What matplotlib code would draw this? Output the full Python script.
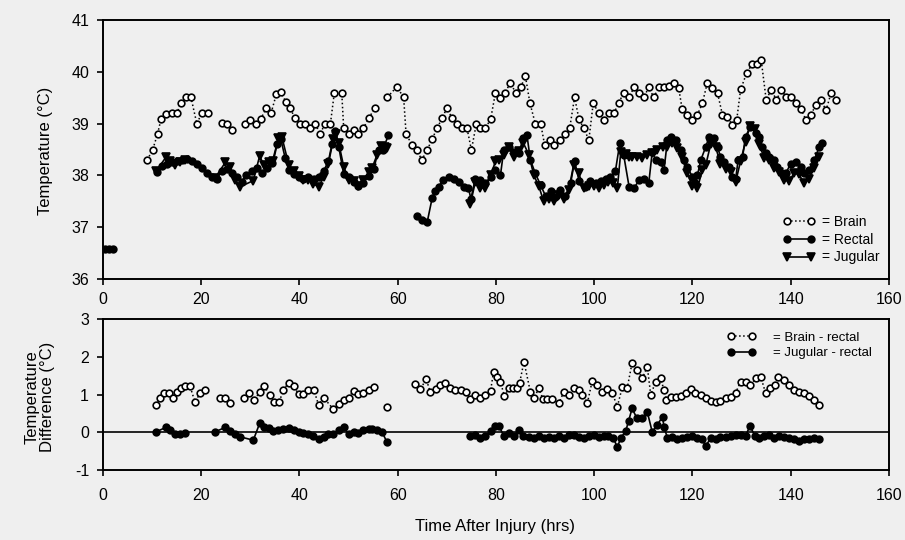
import numpy as np
import matplotlib
matplotlib.use("Agg")
import matplotlib.pyplot as plt
from matplotlib.lines import Line2D

plt.rcParams['font.family'] = ['Liberation Sans', 'DejaVu Sans']
plt.rcParams['axes.unicode_minus'] = False

# ---------------- data: top panel ----------------
brain_t = [9.0, 10.1, 11.1, 11.8, 12.8, 14.0, 15.1, 15.8, 16.8, 17.9, 19.1, 20.1, 21.3,
           24.2, 25.2, 26.2,
           28.9, 30.0, 31.1, 32.1, 33.2, 34.2, 35.3, 36.2, 37.2, 38.1, 39.1, 40.1, 41.2, 42.2,
           43.2, 44.2, 45.2, 46.3, 47.1, 48.6, 49.0, 50.0, 51.0, 52.0, 53.0, 54.1, 55.3,
           57.9, 59.8, 61.2, 61.7, 62.9, 63.9, 64.9, 66.0, 67.0, 68.0, 69.0, 70.0, 71.1, 72.1,
           73.1, 74.1, 75.0, 76.0, 76.8, 77.8, 78.9, 79.9, 80.9, 81.9, 82.9, 84.0, 85.0, 86.0,
           86.9, 88.0, 89.1, 89.9, 91.0, 91.9, 93.0, 94.0, 95.0, 96.0, 96.9, 97.9, 98.9, 99.8,
           100.9, 102.0, 103.0, 104.0, 105.0, 106.0, 107.1, 108.1, 109.1, 110.1, 111.1, 112.1,
           113.2, 114.2, 115.2, 116.2, 117.2, 117.9, 118.9, 120.0, 121.0, 122.0, 123.0, 124.0,
           125.1, 126.1, 127.1, 128.1, 129.0, 129.8, 131.0, 132.2, 133.2, 134.0, 135.0, 136.0,
           137.1, 138.1, 139.1, 140.1, 141.1, 142.1, 143.1, 144.1, 145.1, 146.1, 147.2, 148.2,
           149.2]
brain_v = [38.30, 38.49, 38.80, 39.08, 39.19, 39.20, 39.20, 39.40, 39.51, 39.51, 39.00, 39.20, 39.20,
           39.02, 38.99, 38.88,
           38.99, 39.07, 38.99, 39.08, 39.30, 39.20, 39.57, 39.62, 39.42, 39.30, 39.10, 39.00, 39.00, 38.92,
           39.00, 38.80, 39.00, 39.00, 39.60, 39.60, 38.91, 38.80, 38.88, 38.80, 38.91, 39.10, 39.30,
           39.51, 39.71, 39.51, 38.80, 38.59, 38.49, 38.30, 38.49, 38.70, 38.91, 39.10, 39.30, 39.10, 39.00,
           38.91, 38.91, 38.49, 39.00, 38.91, 38.91, 39.08, 39.60, 39.49, 39.60, 39.79, 39.60, 39.70, 39.91,
           39.40, 39.00, 39.00, 38.59, 38.68, 38.59, 38.68, 38.80, 38.91, 39.51, 39.08, 38.91, 38.68, 39.40,
           39.20, 39.07, 39.20, 39.20, 39.40, 39.60, 39.51, 39.70, 39.60, 39.51, 39.70, 39.51,
           39.70, 39.70, 39.72, 39.78, 39.68, 39.28, 39.17, 39.07, 39.17, 39.39, 39.78, 39.68,
           39.59, 39.17, 39.13, 38.97, 39.07, 39.66, 39.97, 40.16, 40.16, 40.22, 39.46, 39.65,
           39.46, 39.65, 39.51, 39.51, 39.39, 39.28, 39.07, 39.17, 39.36, 39.46, 39.26, 39.59,
           39.46]

rectal_t = [0.5, 1.3, 2.1,
            10.9, 12.0, 13.0, 14.0, 15.0, 16.0, 17.0, 18.1, 19.1, 20.1, 21.1, 22.1, 23.2, 24.2, 25.2,
            26.2, 27.2, 28.2, 29.2, 30.3, 31.3, 32.3, 33.3, 34.4, 35.4, 36.2, 37.1, 37.9, 38.8, 39.8,
            40.8, 41.8, 42.9, 43.9, 44.9, 45.9, 46.6, 47.3, 48.0, 49.0, 50.0, 51.0, 52.0, 53.0, 54.1,
            55.1, 56.1, 57.0, 58.1,
            63.9, 64.9, 66.0, 67.0, 67.5, 68.3, 69.3, 70.4, 71.4, 72.4, 73.4, 74.4, 74.9, 75.8, 76.8,
            77.8, 78.9, 79.9, 80.9, 81.6, 82.6, 83.6, 84.6, 85.6, 86.3, 87.0, 88.0, 89.1, 90.1, 91.1,
            92.1, 93.1, 94.1, 95.2, 96.0, 96.9, 98.2, 99.2, 100.3, 101.3, 102.3, 103.3, 104.3, 105.2,
            106.0, 107.1, 108.1, 109.1, 110.1, 111.1, 111.8, 112.5, 113.5, 114.2, 114.9, 115.6, 116.6,
            117.6, 118.3, 118.9, 120.0, 120.6, 121.0, 121.7, 122.7, 123.4, 124.4, 125.1, 125.7, 126.4,
            127.4, 128.1, 128.8, 129.3, 130.2, 130.8, 131.8, 132.9, 133.5, 134.2, 134.9, 135.6, 136.6,
            137.3, 138.3, 139.0, 140.0, 141.0, 142.0, 142.7, 143.7, 144.8, 145.8, 146.4]
rectal_v = [36.57, 36.57, 36.57,
            38.07, 38.18, 38.22, 38.25, 38.28, 38.30, 38.31, 38.28, 38.23, 38.14, 38.04, 37.97, 37.94,
            38.08, 38.12, 38.04, 37.96, 37.88, 38.01, 38.08, 38.15, 38.04, 38.15, 38.24, 38.60, 38.70,
            38.33, 38.10, 38.02, 37.97, 37.94, 37.97, 37.94, 37.97, 38.08, 38.28, 38.60, 38.85, 38.55,
            38.02, 37.97, 37.88, 37.80, 37.86, 37.98, 38.12, 38.50, 38.50, 38.78,
            37.22, 37.14, 37.10, 37.56, 37.69, 37.78, 37.92, 37.96, 37.94, 37.88, 37.78, 37.75, 37.55,
            37.94, 37.91, 37.85, 37.97, 38.10, 38.00, 38.50, 38.55, 38.46, 38.43, 38.72, 38.78, 38.30,
            38.04, 37.81, 37.60, 37.70, 37.58, 37.72, 37.60, 37.85, 38.28, 37.90, 37.78, 37.90, 37.86,
            37.90, 37.93, 37.97, 38.08, 38.62, 38.39, 37.78, 37.75, 37.91, 37.94, 37.85, 38.45, 38.30,
            38.25, 38.10, 38.68, 38.75, 38.68, 38.49, 38.30, 38.17, 37.97, 37.85, 38.00, 38.30, 38.55,
            38.75, 38.72, 38.55, 38.36, 38.26, 38.17, 37.97, 37.94, 38.30, 38.36, 38.75, 38.94, 38.81,
            38.75, 38.55, 38.43, 38.36, 38.30, 38.17, 38.04, 38.04, 38.23, 38.26, 38.17, 38.04, 38.10,
            38.30, 38.55, 38.62]

jugular_t = [10.8, 12.8, 13.7, 14.7, 15.7, 16.7, 22.8, 24.9, 25.9, 26.9, 27.9, 30.6, 31.9, 32.7,
             33.7, 34.7, 35.7, 36.4, 37.8, 38.8, 39.8, 40.8, 41.8, 42.8, 43.9, 44.9, 45.9, 46.9,
             47.4, 48.0, 49.0, 50.0, 51.0, 52.0, 53.0, 54.1, 54.8, 55.8, 56.5, 57.5, 57.8,
             74.8, 75.8, 76.8, 77.8, 78.9, 79.9, 80.6, 81.6, 82.6, 83.6, 84.6, 85.6, 86.7, 87.7,
             88.7, 89.7, 90.7, 91.8, 92.8, 93.8, 94.8, 95.8, 96.8, 97.9, 98.9, 99.9, 100.9, 101.9,
             102.9, 103.9, 104.7, 105.4, 106.4, 107.0, 107.7, 108.7, 109.8, 110.8, 111.8, 112.8,
             113.9, 114.9, 115.9, 116.9, 117.9, 118.9, 120.0, 121.0, 122.0, 122.7, 123.7, 124.7,
             125.7, 126.8, 127.8, 128.8, 129.8, 130.8, 131.7, 132.7, 133.6, 134.6, 135.6, 136.6,
             137.6, 138.6, 139.6, 140.7, 141.7, 142.7, 143.7, 144.7, 145.8]
jugular_v = [38.08, 38.35, 38.28, 38.20, 38.25, 38.30, 37.95, 38.25, 38.16, 37.92, 37.78, 37.90, 38.38, 38.20,
             38.25, 38.28, 38.72, 38.75, 38.21, 38.08, 37.98, 37.91, 37.92, 37.84, 37.78, 37.96, 38.23, 38.70,
             38.80, 38.62, 38.17, 37.92, 37.89, 37.79, 37.92, 38.06, 38.15, 38.40, 38.57, 38.55, 38.52,
             37.45, 37.88, 37.76, 37.75, 38.00, 38.27, 38.30, 38.40, 38.54, 38.36, 38.48, 38.62, 38.40, 38.00,
             37.80, 37.50, 37.55, 37.50, 37.62, 37.55, 37.72, 38.20, 38.05, 37.75, 37.80, 37.80, 37.75, 37.82,
             37.87, 37.85, 37.75, 38.45, 38.42, 38.36, 38.35, 38.36, 38.33, 38.39, 38.43, 38.49,
             38.55, 38.55, 38.62, 38.52, 38.35, 38.05, 37.80, 37.75, 38.10, 38.20, 38.60, 38.55,
             38.23, 38.13, 38.06, 37.88, 38.28, 38.65, 38.95, 38.90, 38.60, 38.33, 38.30, 38.15,
             38.07, 37.91, 37.89, 38.04, 38.02, 37.85, 37.93, 38.15, 38.36]

# ---------------- data: bottom panel ----------------
br_t = [10.7, 11.6, 12.4, 13.5, 14.3, 15.1, 15.8, 16.7, 17.7, 18.7, 19.8, 20.8, 23.8, 24.9, 25.9,
        28.7, 29.8, 30.8, 31.9, 32.8, 33.9, 34.8, 35.9, 36.7, 37.8, 38.8, 39.8, 40.8, 41.8, 42.9,
        43.9, 44.9, 46.9, 48.0, 49.0, 50.0, 51.0, 52.0, 53.0, 54.1, 55.1, 57.9,
        63.6, 64.6, 65.8, 66.6, 67.7, 68.7, 69.7, 70.7, 71.7, 72.8, 73.8, 74.8, 75.8, 76.8, 77.8,
        78.9, 79.5, 80.2, 80.9, 81.7, 82.6, 83.5, 84.3, 84.8, 85.7, 87.0, 87.7, 88.7, 89.6, 90.4,
        91.4, 92.8, 93.8, 94.8, 95.8, 96.9, 97.6, 98.6, 99.6, 100.6, 101.6, 102.6, 103.7, 104.7,
        105.7, 106.7, 107.7, 108.8, 109.8, 110.8, 111.5, 112.5, 113.5, 114.2, 114.7, 115.7, 116.6,
        117.6, 118.6, 119.6, 120.6, 121.7, 122.7, 123.7, 124.7, 125.7, 126.8, 127.8, 128.8, 129.8,
        130.8, 131.8, 132.9, 133.9, 134.9, 135.8, 136.7, 137.5, 138.6, 139.6, 140.6, 141.7, 142.7,
        143.7, 144.7, 145.8]
br_v = [0.72, 0.90, 1.03, 1.03, 0.92, 1.07, 1.16, 1.23, 1.23, 0.81, 1.03, 1.12, 0.92, 0.92, 0.78,
        0.92, 1.03, 0.85, 1.07, 1.23, 1.00, 0.81, 0.81, 1.12, 1.31, 1.23, 1.01, 1.01, 1.13, 1.13,
        0.72, 0.92, 0.61, 0.75, 0.85, 0.92, 1.10, 1.01, 1.05, 1.12, 1.19, 0.68,
        1.28, 1.14, 1.41, 1.07, 1.14, 1.25, 1.31, 1.16, 1.12, 1.12, 1.07, 0.87, 0.99, 0.90, 0.99,
        1.10, 1.60, 1.47, 1.34, 0.96, 1.16, 1.16, 1.16, 1.30, 1.87, 1.07, 0.90, 1.16, 0.87, 0.87,
        0.87, 0.77, 1.07, 0.99, 1.16, 1.12, 0.99, 0.77, 1.37, 1.25, 1.07, 1.14, 1.03, 0.68,
        1.19, 1.16, 1.84, 1.65, 1.43, 1.74, 0.99, 1.34, 1.43, 1.12, 0.85, 0.94, 0.94,
        0.96, 1.05, 1.14, 1.05, 0.99, 0.92, 0.83, 0.81, 0.83, 0.90, 0.94, 1.05, 1.34,
        1.34, 1.25, 1.43, 1.47, 1.03, 1.16, 1.25, 1.47, 1.39, 1.25, 1.12, 1.07, 1.03,
        0.96, 0.85, 0.72]

jr_t = [10.8, 12.8, 13.7, 14.7, 15.7, 16.7, 22.8, 24.9, 25.9, 26.9, 27.9, 30.6, 31.9, 32.7, 33.7,
        34.7, 35.7, 36.7, 37.8, 38.8, 39.8, 40.8, 41.8, 42.8, 43.9, 44.9, 45.9, 46.9, 48.0, 49.0,
        50.0, 51.0, 52.0, 53.0, 54.1, 54.8, 55.8, 56.8, 57.8,
        74.8, 75.8, 76.8, 77.8, 78.9, 79.9, 80.6, 81.6, 82.6, 83.6, 84.6, 85.6, 86.7, 87.7, 88.7,
        89.7, 90.7, 91.8, 92.8, 93.8, 94.8, 95.8, 96.8, 97.9, 98.9, 99.9, 100.9, 101.9, 102.9,
        103.9, 104.7, 105.4, 106.4, 107.0, 107.7, 108.7, 109.8, 110.8, 111.8, 112.8, 113.9, 114.2,
        114.9, 115.9, 116.9, 117.9, 118.9, 120.0, 121.0, 122.0, 122.7, 123.7, 124.7, 125.7, 126.8,
        127.8, 128.8, 129.8, 130.8, 131.7, 132.7, 133.6, 134.6, 135.6, 136.6, 137.6, 138.6, 139.6,
        140.7, 141.7, 142.7, 143.7, 144.7, 145.8]
jr_v = [0.01, 0.13, 0.06, -0.05, -0.05, -0.01, 0.01, 0.13, 0.04, -0.05, -0.12, -0.21, 0.24, 0.13, 0.11,
        0.04, 0.06, 0.08, 0.11, 0.06, 0.01, -0.03, -0.05, -0.10, -0.19, -0.12, -0.05, -0.05, 0.06, 0.15,
        -0.05, 0.01, -0.01, 0.06, 0.08, 0.09, 0.07, 0.01, -0.26,
        -0.10, -0.06, -0.15, -0.10, 0.03, 0.17, 0.17, -0.10, -0.01, -0.10, 0.05, -0.10, -0.13, -0.15, -0.10,
        -0.16, -0.13, -0.15, -0.10, -0.15, -0.06, -0.08, -0.13, -0.15, -0.10, -0.08, -0.13, -0.10, -0.10,
        -0.15, -0.40, -0.15, 0.03, 0.30, 0.63, 0.37, 0.37, 0.54, 0.01, 0.19, 0.41, 0.14,
        -0.15, -0.13, -0.17, -0.15, -0.13, -0.10, -0.15, -0.19, -0.37, -0.15, -0.17, -0.13, -0.13,
        -0.10, -0.06, -0.08, -0.10, 0.17, -0.10, -0.15, -0.10, -0.06, -0.15, -0.10, -0.13, -0.15,
        -0.19, -0.24, -0.19, -0.17, -0.15, -0.19]

x_ticks = [0, 20, 40, 60, 80, 100, 120, 140, 160]
top_yticks = [36, 37, 38, 39, 40, 41]
bot_yticks = [-1, 0, 1, 2, 3]

BG = '#efefef'


def segments(t, v, gap):
    t = np.asarray(t, float)
    v = np.asarray(v, float)
    cuts = np.where(np.diff(t) > gap)[0] + 1
    return zip(np.split(t, cuts), np.split(v, cuts))


def draw(ax, t, v, gap, ls, marker, mfc, ms, lw=1.0):
    for st, sv in segments(t, v, gap):
        ax.plot(st, sv, linestyle=ls, color='black', linewidth=lw,
                marker=marker, markerfacecolor=mfc, markeredgecolor='black',
                markersize=ms, markeredgewidth=1.2)


fig = plt.figure(figsize=(9.05, 5.40), dpi=100, facecolor=BG)
ax1 = fig.add_axes([0.1138, 0.4833, 0.8685, 0.4796], facecolor=BG)
ax2 = fig.add_axes([0.1138, 0.1296, 0.8685, 0.2796], facecolor=BG)

draw(ax1, brain_t, brain_v, 2.0, ':', 'o', 'white', 4.8, lw=1.1)
draw(ax1, jugular_t, jugular_v, 4.5, '-', 'v', 'black', 5.2, lw=1.2)
draw(ax1, rectal_t, rectal_v, 4.5, '-', 'o', 'black', 4.8, lw=1.2)

ax2.axhline(0, color='black', linewidth=1.2, zorder=1)
draw(ax2, br_t, br_v, 2.0, ':', 'o', 'white', 4.8, lw=1.1)
draw(ax2, jr_t, jr_v, 4.5, '-', 'o', 'black', 4.8, lw=1.2)

for ax in (ax1, ax2):
    ax.set_xlim(0, 160)
    ax.set_xticks(x_ticks)
    for s in ax.spines.values():
        s.set_linewidth(1.4)
    ax.tick_params(direction='out', length=4, width=1.2, labelsize=11.5, pad=6)

ax1.set_ylim(36, 41)
ax1.set_yticks(top_yticks)
ax2.set_ylim(-1, 3)
ax2.set_yticks(bot_yticks)
ax1.tick_params(axis='x', pad=5)
ax2.tick_params(axis='x', pad=9)

fig.text(0.050, 0.72, 'Temperature (\u00b0C)', rotation=90, ha='center', va='center', fontsize=12)
fig.text(0.044, 0.265, 'Temperature\nDifference (\u00b0C)', rotation=90, ha='center', va='center',
         fontsize=12, linespacing=1.1)
fig.text(0.547, 0.025, 'Time After Injury (hrs)', ha='center', va='center', fontsize=12)

h_brain = Line2D([], [], linestyle=':', color='black', lw=1.1, marker='o', mfc='white', mec='black',
                 ms=4.8, mew=1.2)
h_rect = Line2D([], [], linestyle='-', color='black', lw=1.2, marker='o', mfc='black', mec='black',
                ms=4.8, mew=1.2)
h_jug = Line2D([], [], linestyle='-', color='black', lw=1.2, marker='v', mfc='black', mec='black',
               ms=5.2, mew=1.2)
ax1.legend([h_brain, h_rect, h_jug], ['= Brain', '= Rectal', '= Jugular'], loc='lower right',
           frameon=False, fontsize=10, numpoints=2, handlelength=2.3, handletextpad=0.5,
           labelspacing=0.28, borderaxespad=0.0, bbox_to_anchor=(0.995, 0.035))
ax2.legend([h_brain, h_rect], ['= Brain - rectal', '= Jugular - rectal'], loc='upper right',
           frameon=False, fontsize=9.5, numpoints=2, handlelength=2.2, handletextpad=1.3,
           labelspacing=0.22, borderaxespad=0.0, bbox_to_anchor=(0.985, 0.95))

fig.savefig('out.png', dpi=100, facecolor=BG)
